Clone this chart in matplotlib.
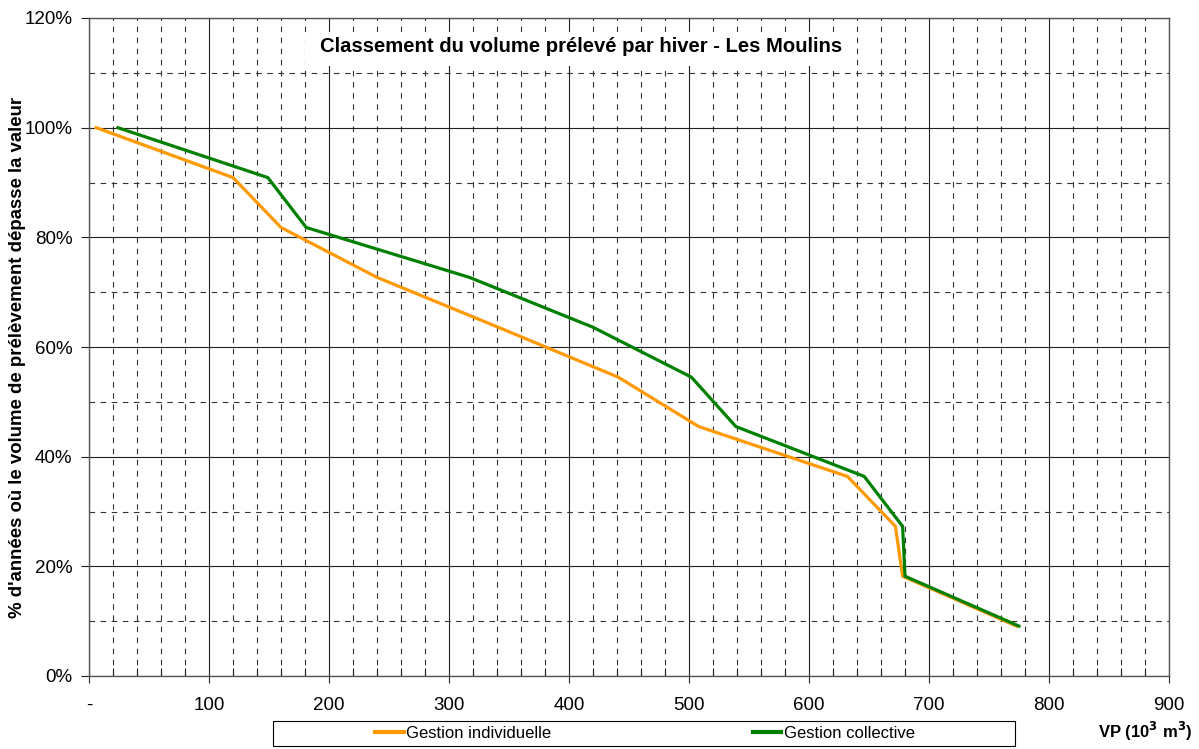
import matplotlib
matplotlib.use("Agg")
import matplotlib.pyplot as plt
from matplotlib.patches import Rectangle
from matplotlib.lines import Line2D
from matplotlib.ticker import FuncFormatter

plt.rcParams['font.family'] = ['Liberation Sans', 'DejaVu Sans']

# Data
pct = [100.0, 90.9, 81.8, 72.7, 63.6, 54.5, 45.5, 36.4, 27.3, 18.2, 9.1]
vp_individuelle = [6, 120, 160, 240, 341, 441, 508, 632, 672, 678, 773]
vp_collective = [24, 149, 181, 317, 420, 502, 539, 646, 678, 680, 775]
title = "Classement du volume prélevé par hiver - Les Moulins"
ylabel = "% d'années où le volume de prélèvement dépasse la valeur"
xlabel = r"VP (10$^{\mathbf{3}}$ m$^{\mathbf{3}}$)"
labels = ["Gestion individuelle", "Gestion collective"]
colors = ["#FF9900", "#008000"]

W, H = 1199, 749
fig = plt.figure(figsize=(W / 100, H / 100), dpi=100)
L, R, T, B = 89, 1169, 18, 676
ax = fig.add_axes([L / W, 1 - B / H, (R - L) / W, (B - T) / H])

ax.set_xlim(0, 900)
ax.set_ylim(0, 120)
ax.set_xticks(range(0, 1000, 100))
ax.set_xticks([v for v in range(20, 900, 20) if v % 100 != 0], minor=True)
ax.set_yticks(range(0, 140, 20))
ax.set_yticks(range(10, 120, 20), minor=True)

ax.xaxis.set_major_formatter(FuncFormatter(lambda v, p: "-" if v == 0 else f"{int(v)}"))
ax.yaxis.set_major_formatter(FuncFormatter(lambda v, p: f"{int(v)}%"))

ax.grid(which='major', color='#222222', lw=0.8, ls='-')
ax.grid(which='minor', color='#333333', lw=0.8, ls=(0, (5, 5)))

ax.tick_params(axis='x', which='major', direction='out', length=5, width=0.8,
               labelsize=13.5, pad=10, colors='#222222', labelcolor='black')
ax.tick_params(axis='x', which='minor', direction='in', length=6, width=0.8, colors='#222222')
ax.tick_params(axis='y', which='major', direction='out', length=6, width=0.8,
               labelsize=13.5, pad=6, colors='#222222', labelcolor='black')
ax.tick_params(axis='y', which='minor', length=0)
for s in ax.spines.values():
    s.set_color('#555555')
    s.set_linewidth(1.0)

ax.plot(vp_individuelle, pct, color=colors[0], lw=2.3, zorder=3, solid_joinstyle='miter')
ax.plot(vp_collective, pct, color=colors[1], lw=2.3, zorder=3, solid_joinstyle='miter')

# Title box inside the plot
ax.add_patch(Rectangle(((305 - L) / (R - L), (B - 66) / (B - T)),
                       (857 - 305) / (R - L), (66 - 32) / (B - T),
                       transform=ax.transAxes, facecolor='white', edgecolor='none', zorder=2))
ax.text((581 - L) / (R - L), (B - 46) / (B - T), title, transform=ax.transAxes,
        ha='center', va='center', fontsize=14.6, fontweight='bold', zorder=4)

fig.text(18 / W, 1 - 357 / H, ylabel, rotation=90, ha='center', va='center',
         fontsize=13.4, fontweight='bold')

fig.text(1145 / W, 1 - 731 / H, xlabel, ha='center', va='center',
         fontsize=12, fontweight='bold')

# Legend frame
fig.add_artist(Rectangle((273 / W, 1 - 746 / H), (1015 - 273) / W, (746 - 721) / H,
                         transform=fig.transFigure, facecolor='white',
                         edgecolor='black', lw=0.8))
handles = [Line2D([], [], color=c, lw=3) for c in colors]
fig.legend(handles, labels, loc='center', bbox_to_anchor=(645 / W, 1 - 733.5 / H),
           ncol=2, frameon=False, fontsize=12, handlelength=1.7, handletextpad=0.15,
           columnspacing=12.1)

fig.savefig("out.png", dpi=100)
